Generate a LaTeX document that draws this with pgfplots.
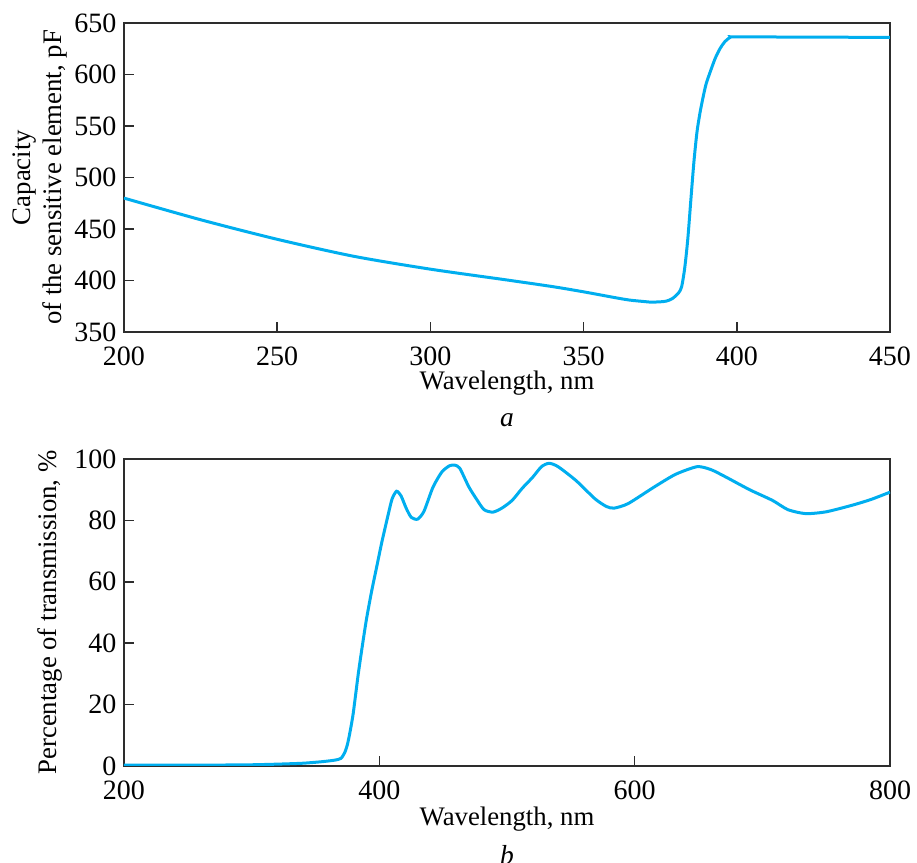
\documentclass[border=0pt]{standalone}
\usepackage{fontspec}
\setmainfont{Liberation Serif}
\usepackage{pgfplots}
\pgfplotsset{compat=1.18}
\definecolor{curve}{RGB}{0,174,239}
\definecolor{axc}{RGB}{45,45,45}

\pgfplotstableread{
lam C
200 480
225 459
250 440
275 423.5
300 411
325 400.5
340 394
350 389
360 383.5
365 381
370 379.5
372 379
375 379.3
377 380
379 382.5
381 388
382 394
383 412
384 440
385 478
386 515
387 544
388 563
389 578
390 591
391.5 604
393 616
394.5 625
396 631.5
398 636.3
400 636.5
425 636.3
450 636
}\captable

\pgfplotstableread{
lam T
200 0.3
250 0.3
270 0.3
300 0.4
320 0.6
340 0.9
355 1.4
365 1.9
370 2.5
373 4.5
375 7
377 11
379.5 17
383.5 30
387 40
390 48
394 57
398 65
402 73
407 82
410 87
413.5 89.5
417 88
421 84
425 81
430 80.4
435 83
442 90.8
449 95.8
455 97.8
459 98
463 97
470 91
476 87
482 83.5
489 82.7
496 84
504 86.5
512 90.5
520 94
527 97.5
533 98.6
540 97.5
554 93
569 87
578 84.5
584 84
595 85.5
615 90.8
632 95
649 97.5
660 96.5
672 94
690 90
708 86.5
720 83.5
734 82.2
750 82.8
770 84.9
785 86.8
800 89.2
}\transtable

\begin{document}
\begin{tikzpicture}
\useasboundingbox (-49.6pt,-38.8pt) rectangle (317.2pt,306.4pt);
\pgfplotsset{
  every axis/.append style={
    scale only axis, width=306.4pt, clip mode=individual,
    tick align=inside, xtick pos=left, ytick pos=left,
    major tick length=4pt,
    axis line style={axc, line width=0.6pt},
    every tick/.style={axc, line width=0.6pt},
    tick label style={font=\fontsize{11.2}{13.4}\selectfont},
    xticklabel style={yshift=-2.5pt},
    yticklabel style={xshift=0.5pt},
    /pgf/number format/assume math mode=true,
    /pgf/number format/1000 sep={},
    label style={font=\fontsize{10.7}{12.6}\selectfont},
  }
}
\begin{axis}[
  at={(0,173.6pt)}, anchor=south west, height=123.6pt,
  xmin=200, xmax=450, ymin=350, ymax=650,
  xtick={200,250,...,450}, ytick={350,400,...,650},
  xlabel={Wavelength, nm},
  xlabel style={at={(axis description cs:0.5,-0.165)}, anchor=center},
  ylabel={Capacity\\of the sensitive element, pF},
  ylabel style={align=center, at={(axis description cs:-0.1097,0.5)}, anchor=center},
]
\addplot[curve, line width=1.2pt, smooth, tension=0.45] table[x=lam, y=C] {\captable};
\node[font=\fontsize{11}{13}\selectfont\itshape] at (axis description cs:0.5,-0.285) {a};
\end{axis}
\begin{axis}[
  at={(0,0)}, anchor=south west, height=122.8pt,
  xmin=200, xmax=800, ymin=0, ymax=100,
  xtick={200,400,600,800}, ytick={0,20,...,100},
  xlabel={Wavelength, nm},
  xlabel style={at={(axis description cs:0.5,-0.172)}, anchor=center},
  ylabel={Percentage of transmission, \%},
  ylabel style={at={(axis description cs:-0.0966,0.5)}, anchor=center},
]
\addplot[curve, line width=1.2pt, smooth, tension=0.4] table[x=lam, y=T] {\transtable};
\node[font=\fontsize{11}{13}\selectfont\itshape] at (axis description cs:0.5,-0.29) {b};
\end{axis}
\end{tikzpicture}
\end{document}
